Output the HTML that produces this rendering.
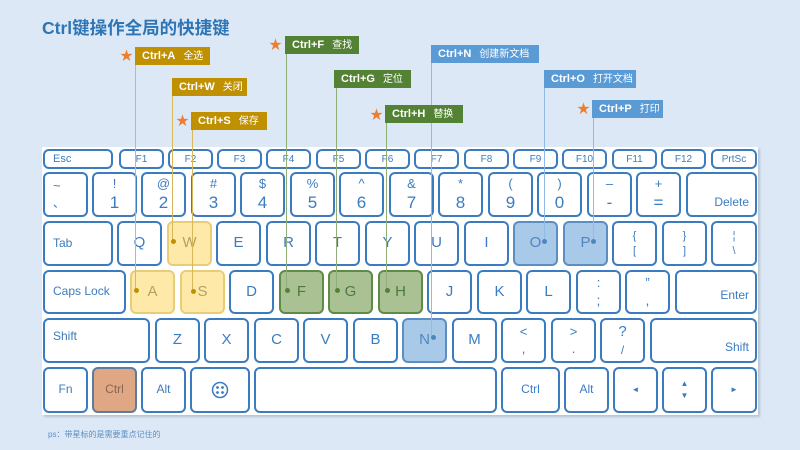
<!DOCTYPE html>
<html><head><meta charset="utf-8"><style>
*{margin:0;padding:0;box-sizing:border-box}
body{width:800px;height:450px;background:#dce8f5;position:relative;overflow:hidden;font-family:"Liberation Sans","Noto Sans CJK SC",sans-serif}
.kb{position:absolute;left:42px;top:147px;width:716px;height:268px;background:#fff;box-shadow:2px 2px 2px #b8c4d0}
.k{position:absolute;border:2px solid #3b7cc0;border-radius:6px;background:#fff;color:#3b7cc0;font-size:12px;display:flex;align-items:center;justify-content:center;text-align:center;line-height:1.1}
.f{font-size:10px}
.big{font-size:17px}
.two{flex-direction:column;font-size:13px}
.two span{font-size:17px;margin-top:3px}
.y{background:#ffe9a8;border-color:#e8cc78;color:#b8a060}
.g{background:#a9c193;border-color:#5f8b49;color:#4f7a3a}
.b{background:#a9c9e8;border-color:#5b8fc4;color:#4f86c0}
.c{background:#dfa783;border-color:#5a7ca0;color:#8a6550}
.lab{position:absolute;height:18px;color:#fff;font-size:11px;font-weight:bold;padding-left:7px;line-height:18px;white-space:nowrap}
.lab i{font-style:normal;font-weight:normal;margin-left:8px;font-size:10px}
.ly{background:#bf9000}.lg{background:#548235}.lb{background:#5b9bd5}
.ln{position:absolute;width:1px}
.dot{position:absolute;width:5px;height:5px;border-radius:50%}
.st{position:absolute;color:#ed7d31;font-size:13px;line-height:13px}
</style></head><body>
<div style="position:absolute;left:42px;top:15px;font-size:17.5px;font-weight:bold;color:#2e75b6">Ctrl键操作全局的快捷键</div>
<div class="kb"></div>
<!-- row F -->
<div class="k f" style="left:43px;top:149px;width:70px;height:20px;justify-content:flex-start;padding-left:8px;font-size:11px">Esc</div>
<div class="k f" style="left:119px;top:149px;width:45px;height:20px">F1</div>
<div class="k f" style="left:168px;top:149px;width:45px;height:20px">F2</div>
<div class="k f" style="left:217px;top:149px;width:45px;height:20px">F3</div>
<div class="k f" style="left:266px;top:149px;width:45px;height:20px">F4</div>
<div class="k f" style="left:316px;top:149px;width:45px;height:20px">F5</div>
<div class="k f" style="left:365px;top:149px;width:45px;height:20px">F6</div>
<div class="k f" style="left:414px;top:149px;width:45px;height:20px">F7</div>
<div class="k f" style="left:464px;top:149px;width:45px;height:20px">F8</div>
<div class="k f" style="left:513px;top:149px;width:45px;height:20px">F9</div>
<div class="k f" style="left:562px;top:149px;width:45px;height:20px">F10</div>
<div class="k f" style="left:612px;top:149px;width:45px;height:20px">F11</div>
<div class="k f" style="left:661px;top:149px;width:45px;height:20px">F12</div>
<div class="k f" style="left:711px;top:149px;width:46px;height:20px">PrtSc</div>
<!-- row num -->
<div class="k two" style="left:43px;top:172px;width:45px;height:45px;align-items:flex-start;padding-left:8px">~<span style="font-size:12px">、</span></div>
<div class="k two" style="left:92px;top:172px;width:45px;height:45px">!<span>1</span></div>
<div class="k two" style="left:141px;top:172px;width:45px;height:45px">@<span>2</span></div>
<div class="k two" style="left:191px;top:172px;width:45px;height:45px">#<span>3</span></div>
<div class="k two" style="left:240px;top:172px;width:45px;height:45px">$<span>4</span></div>
<div class="k two" style="left:290px;top:172px;width:45px;height:45px">%<span>5</span></div>
<div class="k two" style="left:339px;top:172px;width:45px;height:45px">^<span>6</span></div>
<div class="k two" style="left:389px;top:172px;width:45px;height:45px">&amp;<span>7</span></div>
<div class="k two" style="left:438px;top:172px;width:45px;height:45px">*<span>8</span></div>
<div class="k two" style="left:488px;top:172px;width:45px;height:45px">(<span>9</span></div>
<div class="k two" style="left:537px;top:172px;width:45px;height:45px">)<span>0</span></div>
<div class="k two" style="left:587px;top:172px;width:45px;height:45px">–<span>-</span></div>
<div class="k two" style="left:636px;top:172px;width:45px;height:45px">+<span>=</span></div>
<div class="k" style="left:686px;top:172px;width:71px;height:45px;align-items:flex-end;justify-content:flex-end;padding:0 6px 6px 0">Delete</div>
<!-- row Q -->
<div class="k" style="left:43px;top:221px;width:70px;height:45px;justify-content:flex-start;padding-left:8px">Tab</div>
<div class="k big" style="left:117px;top:221px;width:45px;height:45px;font-size:15px">Q</div>
<div class="k big y" style="left:167px;top:221px;width:45px;height:45px;font-size:15px">W</div>
<div class="k big" style="left:216px;top:221px;width:45px;height:45px;font-size:15px">E</div>
<div class="k big" style="left:266px;top:221px;width:45px;height:45px;font-size:15px">R</div>
<div class="k big" style="left:315px;top:221px;width:45px;height:45px;font-size:15px">T</div>
<div class="k big" style="left:365px;top:221px;width:45px;height:45px;font-size:15px">Y</div>
<div class="k big" style="left:414px;top:221px;width:45px;height:45px;font-size:15px">U</div>
<div class="k big" style="left:464px;top:221px;width:45px;height:45px;font-size:15px">I</div>
<div class="k big b" style="left:513px;top:221px;width:45px;height:45px;font-size:15px">O</div>
<div class="k big b" style="left:563px;top:221px;width:45px;height:45px;font-size:15px">P</div>
<div class="k two" style="left:612px;top:221px;width:45px;height:45px;font-size:11px">{<span style="font-size:11px">[</span></div>
<div class="k two" style="left:662px;top:221px;width:45px;height:45px;font-size:11px">}<span style="font-size:11px">]</span></div>
<div class="k two" style="left:711px;top:221px;width:46px;height:45px;font-size:11px">¦<span style="font-size:11px">\</span></div>
<!-- row A -->
<div class="k" style="left:43px;top:270px;width:83px;height:44px;justify-content:flex-start;padding-left:8px">Caps Lock</div>
<div class="k y" style="left:130px;top:270px;width:45px;height:44px;font-size:15px">A</div>
<div class="k y" style="left:180px;top:270px;width:45px;height:44px;font-size:15px">S</div>
<div class="k" style="left:229px;top:270px;width:45px;height:44px;font-size:15px">D</div>
<div class="k g" style="left:279px;top:270px;width:45px;height:44px;font-size:15px">F</div>
<div class="k g" style="left:328px;top:270px;width:45px;height:44px;font-size:15px">G</div>
<div class="k g" style="left:378px;top:270px;width:45px;height:44px;font-size:15px">H</div>
<div class="k" style="left:427px;top:270px;width:45px;height:44px;font-size:15px">J</div>
<div class="k" style="left:477px;top:270px;width:45px;height:44px;font-size:15px">K</div>
<div class="k" style="left:526px;top:270px;width:45px;height:44px;font-size:15px">L</div>
<div class="k two" style="left:576px;top:270px;width:45px;height:44px">:<span style="font-size:14px">;</span></div>
<div class="k two" style="left:625px;top:270px;width:45px;height:44px">”<span style="font-size:14px">,</span></div>
<div class="k" style="left:675px;top:270px;width:82px;height:44px;justify-content:flex-end;padding:8px 6px 0 0">Enter</div>
<!-- row Z -->
<div class="k" style="left:43px;top:318px;width:107px;height:45px;justify-content:flex-start;align-items:flex-start;padding:10px 0 0 8px">Shift</div>
<div class="k" style="left:155px;top:318px;width:45px;height:45px;font-size:15px">Z</div>
<div class="k" style="left:204px;top:318px;width:45px;height:45px;font-size:15px">X</div>
<div class="k" style="left:254px;top:318px;width:45px;height:45px;font-size:15px">C</div>
<div class="k" style="left:303px;top:318px;width:45px;height:45px;font-size:15px">V</div>
<div class="k" style="left:353px;top:318px;width:45px;height:45px;font-size:15px">B</div>
<div class="k b" style="left:402px;top:318px;width:45px;height:45px;font-size:15px">N</div>
<div class="k" style="left:452px;top:318px;width:45px;height:45px;font-size:15px">M</div>
<div class="k two" style="left:501px;top:318px;width:45px;height:45px">&lt;<span style="font-size:13px">,</span></div>
<div class="k two" style="left:551px;top:318px;width:45px;height:45px">&gt;<span style="font-size:13px">.</span></div>
<div class="k two" style="left:600px;top:318px;width:45px;height:45px;font-size:15px">?<span style="font-size:12px">/</span></div>
<div class="k" style="left:650px;top:318px;width:107px;height:45px;justify-content:flex-end;align-items:flex-end;padding:0 6px 7px 0">Shift</div>
<!-- bottom -->
<div class="k" style="left:43px;top:367px;width:45px;height:46px">Fn</div>
<div class="k c" style="left:92px;top:367px;width:45px;height:46px">Ctrl</div>
<div class="k" style="left:141px;top:367px;width:45px;height:46px">Alt</div>
<div class="k" style="left:190px;top:367px;width:60px;height:46px"><svg width="18" height="18" viewBox="0 0 18 18"><circle cx="9" cy="9" r="7.5" fill="none" stroke="#3b7cc0" stroke-width="1.5"/><circle cx="6.5" cy="6.5" r="1.4" fill="#3b7cc0"/><circle cx="11.5" cy="6.5" r="1.4" fill="#3b7cc0"/><circle cx="6.5" cy="11.5" r="1.4" fill="#3b7cc0"/><circle cx="11.5" cy="11.5" r="1.4" fill="#3b7cc0"/></svg></div>
<div class="k" style="left:254px;top:367px;width:243px;height:46px"></div>
<div class="k" style="left:501px;top:367px;width:59px;height:46px">Ctrl</div>
<div class="k" style="left:564px;top:367px;width:45px;height:46px">Alt</div>
<div class="k" style="left:613px;top:367px;width:45px;height:46px;font-size:8px">◄</div>
<div class="k two" style="left:662px;top:367px;width:45px;height:46px;font-size:8px">▲<span style="font-size:8px">▼</span></div>
<div class="k" style="left:711px;top:367px;width:46px;height:46px;font-size:8px">►</div>
<!-- connectors -->
<div class="ln" style="left:135px;top:65px;height:226px;background:#d7b85a"></div><div class="dot" style="left:134px;top:288px;background:#bf9000"></div>
<div class="ln" style="left:172px;top:96px;height:146px;background:#d7b85a"></div><div class="dot" style="left:171px;top:239px;background:#bf9000"></div>
<div class="ln" style="left:192px;top:130px;height:162px;background:#d7b85a"></div><div class="dot" style="left:191px;top:289px;background:#bf9000"></div>
<div class="ln" style="left:286px;top:54px;height:237px;background:#8fae78"></div><div class="dot" style="left:285px;top:288px;background:#548235"></div>
<div class="ln" style="left:336px;top:88px;height:203px;background:#8fae78"></div><div class="dot" style="left:335px;top:288px;background:#548235"></div>
<div class="ln" style="left:386px;top:123px;height:168px;background:#8fae78"></div><div class="dot" style="left:385px;top:288px;background:#548235"></div>
<div class="ln" style="left:431px;top:63px;height:275px;background:#8fbbe6"></div><div class="dot" style="left:431px;top:335px;background:#4f86c0"></div>
<div class="ln" style="left:544px;top:88px;height:154px;background:#8fbbe6"></div><div class="dot" style="left:542px;top:239px;background:#4f86c0"></div>
<div class="ln" style="left:593px;top:118px;height:124px;background:#8fbbe6"></div><div class="dot" style="left:591px;top:239px;background:#4f86c0"></div>
<!-- labels -->
<div class="st" style="left:120px;top:49px">★</div><div class="lab ly" style="left:135px;top:47px;width:75px">Ctrl+A<i>全选</i></div>
<div class="lab ly" style="left:172px;top:78px;width:75px">Ctrl+W<i>关闭</i></div>
<div class="st" style="left:176px;top:114px">★</div><div class="lab ly" style="left:191px;top:112px;width:76px">Ctrl+S<i>保存</i></div>
<div class="st" style="left:269px;top:38px">★</div><div class="lab lg" style="left:285px;top:36px;width:74px">Ctrl+F<i>查找</i></div>
<div class="lab lg" style="left:334px;top:70px;width:77px">Ctrl+G<i>定位</i></div>
<div class="st" style="left:370px;top:108px">★</div><div class="lab lg" style="left:385px;top:105px;width:78px">Ctrl+H<i>替换</i></div>
<div class="lab lb" style="left:431px;top:45px;width:108px">Ctrl+N<i>创建新文档</i></div>
<div class="lab lb" style="left:544px;top:70px;width:92px">Ctrl+O<i>打开文档</i></div>
<div class="st" style="left:577px;top:102px">★</div><div class="lab lb" style="left:592px;top:100px;width:71px">Ctrl+P<i>打印</i></div>
<div style="position:absolute;left:48px;top:429px;font-size:8px;color:#5b8fc4">ps：带星标的是需要重点记住的</div>
</body></html>
